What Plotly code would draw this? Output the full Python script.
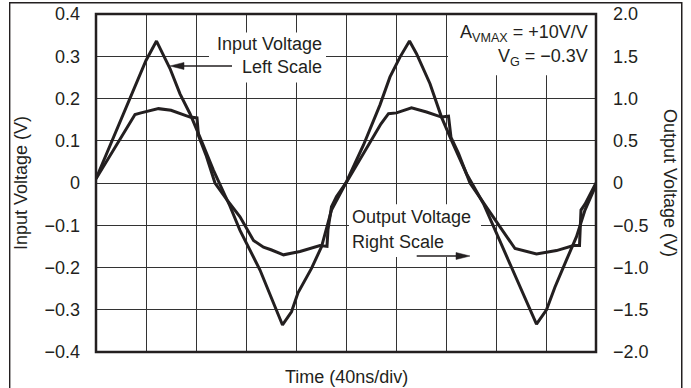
import plotly.graph_objects as go

# ---- data ----
time_in = [0, 0.6, 1.0, 1.21, 1.48, 1.68, 1.88, 2.08, 2.35, 2.68, 2.88, 3.28, 3.55, 3.73,
           3.91, 4.04, 4.31, 4.51, 4.71, 5.01, 5.35, 5.68, 5.88, 6.08, 6.27, 6.41, 6.68,
           6.91, 7.11, 7.41, 7.75, 8.08, 8.5, 8.81, 9.01, 9.18, 9.41, 9.61, 9.78, 10]
input_v = [0.01, 0.18, 0.29, 0.336, 0.271, 0.211, 0.164, 0.108, 0.030, -0.055, -0.112,
           -0.206, -0.285, -0.336, -0.305, -0.260, -0.202, -0.151, -0.064, 0.003, 0.09,
           0.185, 0.251, 0.298, 0.336, 0.306, 0.235, 0.156, 0.101, 0.022, -0.049, -0.139,
           -0.25, -0.334, -0.30, -0.246, -0.182, -0.127, -0.064, -0.005]

time_out = [0, 0.78, 0.9, 1.25, 1.5, 1.88, 2.02, 2.05, 2.2, 2.38, 2.62, 2.88, 3.15, 3.35,
            3.5, 3.75, 4.08, 4.48, 4.62, 4.64, 4.71, 4.81, 5.01, 5.61, 5.70, 5.85, 6.01,
            6.31, 6.61, 6.91, 7.05, 7.10, 7.25, 7.48, 7.75, 8.08, 8.38, 8.81, 9.21, 9.55,
            9.67, 9.70, 9.78, 10]
output_v = [0.05, 0.81, 0.83, 0.88, 0.86, 0.78, 0.77, 0.56, 0.33, 0.0, -0.20, -0.40, -0.68,
            -0.76, -0.79, -0.85, -0.81, -0.74, -0.75, -0.55, -0.28, -0.16, 0.01, 0.62, 0.70,
            0.82, 0.83, 0.89, 0.84, 0.78, 0.79, 0.54, 0.35, 0.0, -0.24, -0.52, -0.775,
            -0.84, -0.80, -0.74, -0.74, -0.32, -0.25, 0.0]

left_ticks = [-0.4, -0.3, -0.2, -0.1, 0, 0.1, 0.2, 0.3, 0.4]
left_labels = ["\u22120.4", "\u22120.3", "\u22120.2", "\u22120.1", "0", "0.1", "0.2", "0.3", "0.4"]
right_ticks = [-2.0, -1.5, -1.0, -0.5, 0, 0.5, 1.0, 1.5, 2.0]
right_labels = ["\u22122.0", "\u22121.5", "\u22121.0", "\u22120.5", "0", "0.5", "1.0", "1.5", "2.0"]
x_grid = list(range(0, 11))

FONT = "Liberation Sans, Arial, Helvetica, sans-serif"
INK = "#231f20"
FS = 18
W, H = 691, 388
PL, PR, PT, PB = 96, 596, 14, 352   # plot area in pixels

fig = go.Figure()
# figure box (full-page helper axes, pixel units)
fig.add_trace(go.Scatter(x=[9.7, 9.7, 681.8, 681.8], y=[-10, H - 2.7, H - 2.7, -10], mode="lines",
                         xaxis="x3", yaxis="y3", line=dict(color=INK, width=1.4),
                         showlegend=False, hoverinfo="skip", cliponaxis=False))
fig.add_trace(go.Scatter(x=time_in, y=input_v, mode="lines", yaxis="y",
                         line=dict(color=INK, width=3), showlegend=False, hoverinfo="skip"))
fig.add_trace(go.Scatter(x=time_out, y=output_v, mode="lines", yaxis="y2",
                         line=dict(color=INK, width=3), showlegend=False, hoverinfo="skip"))

shapes = []
# white boxes behind the labels (cut the grid)
for (x0, x1, y0, y1) in [(2.26, 4.6, 0.238, 0.356), (5.06, 7.7, -0.175, -0.050), (7.04, 10, 0.255, 0.4)]:
    shapes.append(dict(type="rect", xref="x", yref="y", x0=x0, x1=x1, y0=y0, y1=y1,
                       fillcolor="white", line=dict(width=0), layer="between"))
# arrows
ppx = 0.8 / (PB - PT)  # y units per pixel
def arrow(tail_x, tip_x, y):
    d = 0.28 if tip_x < tail_x else -0.28
    shapes.append(dict(type="line", xref="x", yref="y", x0=tail_x, x1=tip_x + d * 0.5, y0=y, y1=y,
                       line=dict(color=INK, width=1.5), layer="above"))
    shapes.append(dict(type="path", xref="x", yref="y",
                       path=f"M{tip_x},{y} L{tip_x + d},{y + 3.5 * ppx} L{tip_x + d},{y - 3.5 * ppx} Z",
                       fillcolor=INK, line=dict(color=INK, width=0.5), layer="above"))
arrow(2.72, 1.48, 0.277)
arrow(6.414, 7.48, -0.1728)
# plot frame
shapes.append(dict(type="rect", xref="x domain", yref="y domain", x0=0, x1=1, y0=0, y1=1,
                   line=dict(color=INK, width=2.5), layer="above"))

tf = dict(family=FONT, size=FS, color=INK)
annotations = [
    dict(text="Input Voltage", x=4.56, y=0.330, xref="x", yref="y", xanchor="right", yanchor="middle",
         showarrow=False, font=tf),
    dict(text="Left Scale", x=4.56, y=0.2746, xref="x", yref="y", xanchor="right", yanchor="middle",
         showarrow=False, font=tf),
    dict(text="Output Voltage", x=5.074, y=-0.0798, xref="x", yref="y", xanchor="left", yanchor="middle",
         showarrow=False, font=tf),
    dict(text="Right Scale", x=5.074, y=-0.139, xref="x", yref="y", xanchor="left", yanchor="middle",
         showarrow=False, font=tf),
    dict(text="A<sub>VMAX</sub> = +10V/V", x=9.88, y=0.3534, xref="x", yref="y", xanchor="right",
         yanchor="middle", showarrow=False, font=tf),
    dict(text="V<sub>G</sub> = \u22120.3V", x=9.88, y=0.298, xref="x", yref="y", xanchor="right",
         yanchor="middle", showarrow=False, font=tf),
    dict(text="Time (40ns/div)", x=346 / W, y=1 - 377.4 / H, xref="paper", yref="paper",
         xanchor="center", yanchor="middle", showarrow=False, font=tf),
    dict(text="Input Voltage (V)", x=21 / W, y=1 - 183 / H, xref="paper", yref="paper", textangle=-90,
         xanchor="center", yanchor="middle", showarrow=False, font=tf),
    dict(text="Output Voltage (V)", x=670 / W, y=1 - 183 / H, xref="paper", yref="paper", textangle=90,
         xanchor="center", yanchor="middle", showarrow=False, font=tf),
]

hidden = dict(visible=False, showgrid=False, zeroline=False, showticklabels=False, automargin=False)

fig.update_layout(
    width=W, height=H,
    margin=dict(l=0, r=0, t=0, b=0, pad=0, autoexpand=False),
    paper_bgcolor="white", plot_bgcolor="rgba(0,0,0,0)",
    font=dict(family=FONT, size=FS, color=INK),
    xaxis=dict(domain=[PL / W, PR / W], range=[0, 10], tickvals=x_grid, showticklabels=False,
               showgrid=True, gridcolor="#333333", gridwidth=1, zeroline=False, showline=False,
               ticks="", automargin=False),
    yaxis=dict(domain=[1 - PB / H, 1 - PT / H], range=[-0.4, 0.4], tickvals=left_ticks,
               ticktext=left_labels, showgrid=True, gridcolor="#333333", gridwidth=1,
               zeroline=False, showline=False, ticks="", ticklabelstandoff=15, tickfont=tf,
               automargin=False),
    yaxis2=dict(range=[-2, 2], tickvals=right_ticks, ticktext=right_labels, overlaying="y",
                side="right", anchor="x", showgrid=False, zeroline=False, showline=False, ticks="",
                ticklabelstandoff=16, tickfont=tf, automargin=False),
    xaxis3=dict(domain=[0, 1], range=[0, W], anchor="y3", **hidden),
    yaxis3=dict(domain=[0, 1], range=[0, H], anchor="x3", **hidden),
    shapes=shapes, annotations=annotations,
)

post = (
    "document.body.style.margin='0';document.body.style.padding='0';"
    "var b=document.createElement('div');"
    "b.style.cssText='position:fixed;left:9px;top:2px;width:673px;height:420px;"
    "border:1.4px solid #231f20;border-bottom:none;box-sizing:border-box;pointer-events:none;z-index:10;';"
    "document.body.appendChild(b);"
)
fig.write_html("out.html", config={"displayModeBar": False}, post_script=post)
